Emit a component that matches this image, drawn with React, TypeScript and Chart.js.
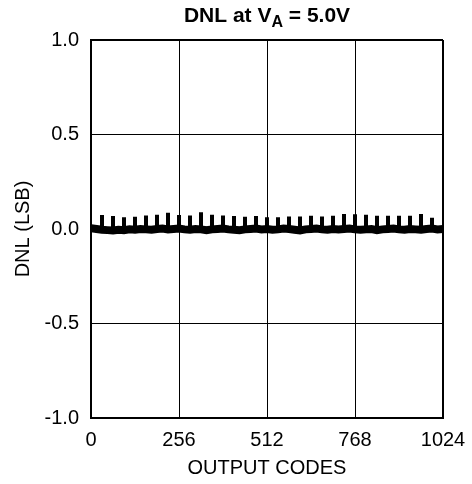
import { useEffect, useRef } from "react";
import { Chart, registerables } from "chart.js";

Chart.register(...registerables);

// ---- data ----
const X_MIN = 0;
const X_MAX = 1024;
const X_STEP = 256;
const Y_MIN = -1.0;
const Y_MAX = 1.0;
const Y_STEP = 0.5;

// DNL band centre, one value every 16 output codes (0..1024)
const BAND_STEP = 16;
const bandValues = [
  0.004, 0.0, -0.004, -0.006, -0.008, -0.004, -0.006, -0.002, -0.004, 0.0,
  -0.002, -0.004, 0.0, 0.002, -0.002, 0.0, 0.002, -0.002, -0.004, 0.0,
  -0.002, -0.006, -0.002, 0.0, 0.002, -0.002, -0.004, -0.006, -0.002, 0.0,
  0.002, -0.002, 0.0, -0.004, -0.002, 0.002, 0.0, -0.004, -0.008, -0.002,
  0.0, 0.002, -0.002, -0.004, 0.0, -0.002, 0.0, 0.002, -0.002, -0.004,
  -0.002, 0.0, -0.006, -0.002, 0.0, 0.002, -0.002, -0.004, 0.0, -0.002,
  -0.004, 0.0, 0.002, -0.002, 0.0,
];

// major-carry spikes every 32 codes
const spikeCodes = [
  32, 64, 96, 128, 160, 192, 224, 256, 288, 320, 352, 384, 416, 448, 480, 512,
  544, 576, 608, 640, 672, 704, 736, 768, 800, 832, 864, 896, 928, 960, 992,
];
const spikeTops = [
  0.074, 0.069, 0.062, 0.065, 0.072, 0.076, 0.086, 0.074, 0.072, 0.088, 0.076,
  0.072, 0.069, 0.065, 0.069, 0.062, 0.062, 0.066, 0.066, 0.07, 0.066, 0.07,
  0.08, 0.078, 0.076, 0.07, 0.07, 0.07, 0.07, 0.08, 0.06,
];

const FONT = '"Liberation Sans", Arial, Helvetica, sans-serif';

export default function App() {
  const ref = useRef<HTMLCanvasElement | null>(null);

  useEffect(() => {
    if (!ref.current) return;

    const bandData = bandValues.map((v, i) => ({ x: i * BAND_STEP, y: v }));
    const spikeData: { x: number; y: number | null }[] = [];
    spikeCodes.forEach((c, i) => {
      spikeData.push({ x: c, y: 0 });
      spikeData.push({ x: c, y: spikeTops[i] });
      spikeData.push({ x: c, y: null });
    });

    const titlePlugin = {
      id: "subTitle",
      afterDraw(chart: any) {
        const ctx = chart.ctx as CanvasRenderingContext2D;
        const area = chart.chartArea;
        ctx.save();
        ctx.fillStyle = "#000";
        ctx.textBaseline = "alphabetic";
        const big = `bold 21px ${FONT}`;
        const small = `bold 16px ${FONT}`;
        const p1 = "DNL at V";
        const p2 = "A";
        const p3 = " = 5.0V";
        ctx.font = big;
        const w1 = ctx.measureText(p1).width;
        const w3 = ctx.measureText(p3).width;
        ctx.font = small;
        const w2 = ctx.measureText(p2).width;
        const total = w1 + w2 + w3;
        let x = (area.left + area.right) / 2 - total / 2;
        const base = 22;
        ctx.font = big;
        ctx.fillText(p1, x, base);
        x += w1;
        ctx.font = small;
        ctx.fillText(p2, x, base + 5);
        x += w2;
        ctx.font = big;
        ctx.fillText(p3, x, base);
        ctx.restore();
      },
    };

    const chart = new Chart(ref.current, {
      type: "line",
      data: {
        datasets: [
          {
            data: bandData,
            borderColor: "#000",
            borderWidth: 8,
            pointRadius: 0,
            tension: 0,
          },
          {
            data: spikeData as any,
            borderColor: "#000",
            borderWidth: 4,
            pointRadius: 0,
            tension: 0,
            spanGaps: false,
          },
        ],
      },
      options: {
        responsive: false,
        animation: false,
        layout: { padding: { top: 40, right: 29, left: 0, bottom: 0 } },
        plugins: {
          legend: { display: false },
          tooltip: { enabled: false },
          title: { display: false },
        },
        scales: {
          x: {
            type: "linear",
            min: X_MIN,
            max: X_MAX,
            afterFit: (s: any) => {
              s.height = 66;
              s.paddingRight = 0;
            },
            ticks: {
              stepSize: X_STEP,
              color: "#000",
              font: { family: FONT, size: 20 },
              padding: 10,
              maxRotation: 0,
              autoSkip: false,
              callback: (v: any) => String(v),
            },
            grid: {
              color: "#000",
              lineWidth: (c: any) => (c.index === 4 ? 2 : 1),
              drawTicks: false,
            },
            border: { color: "#000", width: 2 },
            title: {
              display: true,
              text: "OUTPUT CODES",
              color: "#000",
              font: { family: FONT, size: 20 },
              padding: { top: 0, bottom: 4 },
            },
          },
          y: {
            type: "linear",
            min: Y_MIN,
            max: Y_MAX,
            afterFit: (s: any) => {
              s.width = 91;
            },
            ticks: {
              stepSize: Y_STEP,
              color: "#000",
              font: { family: FONT, size: 20 },
              padding: 12,
              callback: (v: any) => Number(v).toFixed(1),
            },
            grid: {
              color: "#000",
              lineWidth: (c: any) => (c.index === 4 ? 2 : 1),
              drawTicks: false,
            },
            border: { color: "#000", width: 2 },
            title: {
              display: true,
              text: "DNL (LSB)",
              color: "#000",
              font: { family: FONT, size: 20 },
              padding: { top: 11, bottom: 0 },
            },
          },
        },
      },
      plugins: [titlePlugin],
    });

    return () => chart.destroy();
  }, []);

  return (
    <div
      style={{
        position: "absolute",
        left: 0,
        top: 0,
        width: 472,
        height: 484,
        background: "#fff",
      }}
    >
      <canvas ref={ref} width={472} height={484} />
    </div>
  );
}
